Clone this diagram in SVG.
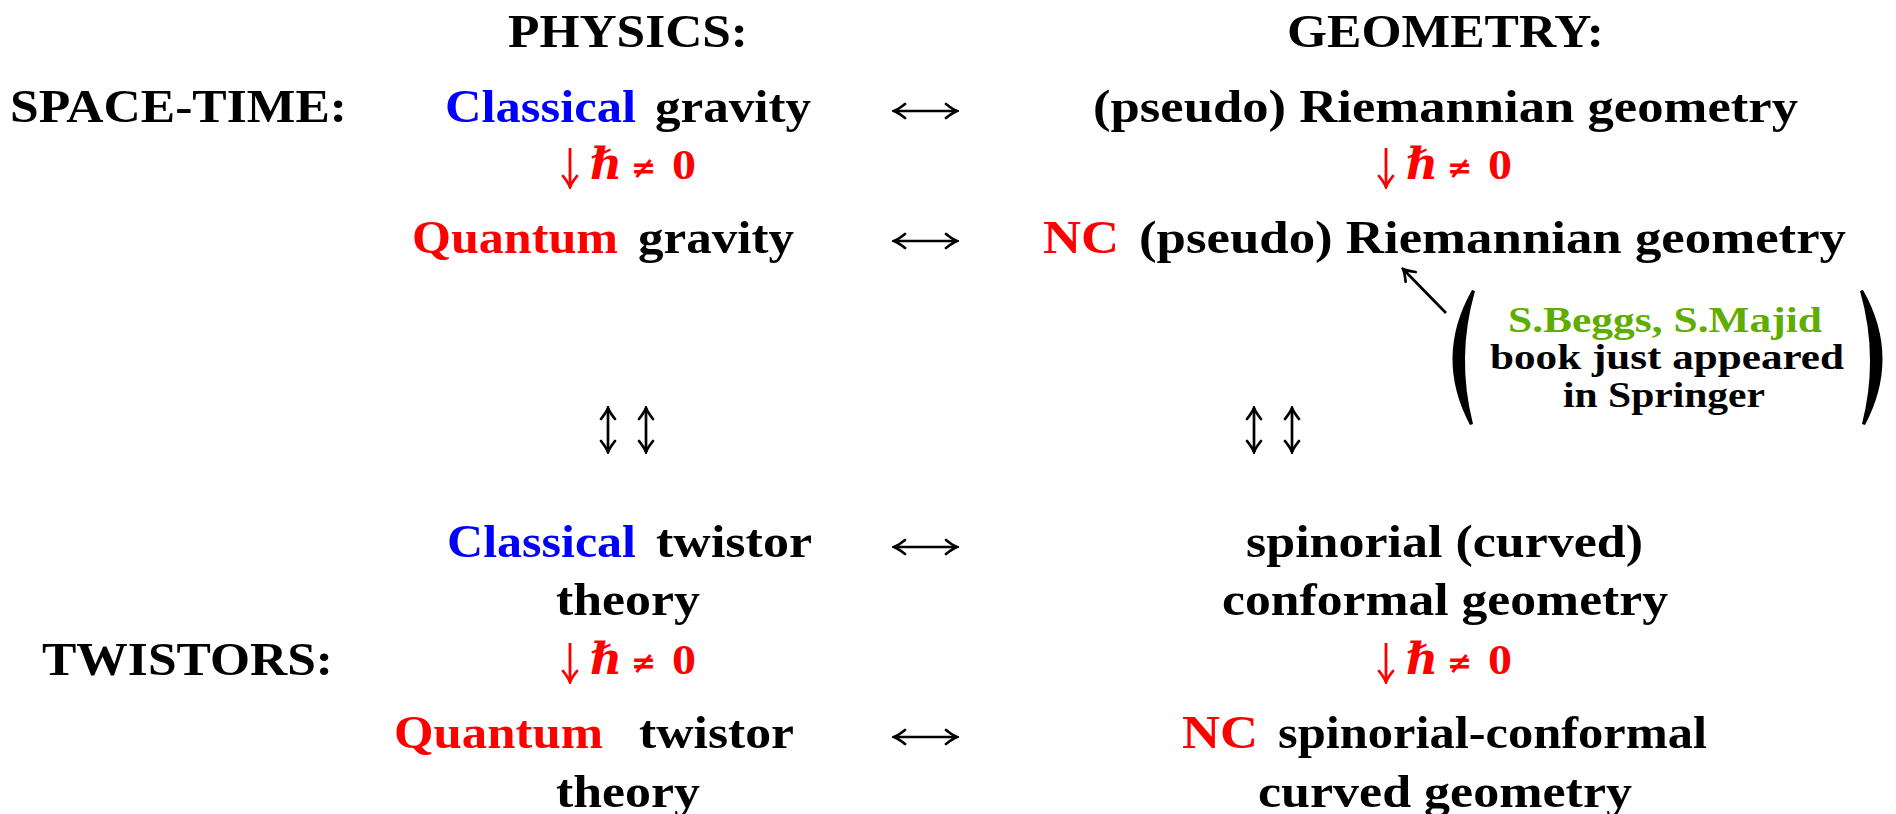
<svg xmlns="http://www.w3.org/2000/svg" width="1896" height="814" viewBox="0 0 1896 814">
<style>
.t{font-family:"Liberation Serif","DejaVu Serif",serif;font-weight:bold;font-size:47px;fill:#000}
.s{font-size:36px}
.blue{fill:#0000ff}
.red{fill:#ff0000}
.green{fill:#5fad00}
.h{font-family:"Liberation Serif","DejaVu Serif",serif;font-weight:bold;font-style:italic;font-size:44px;fill:#ff0000}
.ne{font-family:"DejaVu Sans",sans-serif;font-weight:bold;font-size:30px;fill:#ff0000}
.z{font-family:"Liberation Serif","DejaVu Serif",serif;font-weight:bold;font-size:43px;fill:#ff0000}
.ln{fill:none;stroke:#000;stroke-width:2.7}
.lr{fill:none;stroke:#ff0000;stroke-width:2.8}
</style>
<defs>
<marker id="ah" viewBox="-13 -9 15 18" markerWidth="15" markerHeight="18" refX="0" refY="0" orient="auto-start-reverse" markerUnits="userSpaceOnUse">
<path d="M-11,-7 Q-4,-1.5 0,0 Q-4,1.5 -11,7" fill="none" stroke="#000" stroke-width="2.7" stroke-linecap="round"/>
</marker>
<marker id="ahr" viewBox="-13 -9 15 18" markerWidth="15" markerHeight="18" refX="0" refY="0" orient="auto" markerUnits="userSpaceOnUse">
<path d="M-11,-7 Q-4,-1.5 0,0 Q-4,1.5 -11,7" fill="none" stroke="#ff0000" stroke-width="2.8" stroke-linecap="round"/>
</marker>
</defs>
<rect width="1896" height="814" fill="#fff"/>

<g id="header-physics"><text class="t" x="508" y="47" textLength="240" lengthAdjust="spacingAndGlyphs">PHYSICS:</text></g>
<g id="header-geometry"><text class="t" x="1287" y="47" textLength="317" lengthAdjust="spacingAndGlyphs">GEOMETRY:</text></g>
<g id="label-spacetime"><text class="t" x="10" y="122" textLength="337" lengthAdjust="spacingAndGlyphs">SPACE-TIME:</text></g>
<g id="label-twistors"><text class="t" x="42" y="675" textLength="291" lengthAdjust="spacingAndGlyphs">TWISTORS:</text></g>

<g id="classical-gravity">
<text class="t blue" x="445" y="122" textLength="191" lengthAdjust="spacingAndGlyphs">Classical</text>
<text class="t" x="655" y="122" textLength="156" lengthAdjust="spacingAndGlyphs">gravity</text>
</g>
<g id="riemannian">
<text class="t" x="1093" y="122" textLength="705" lengthAdjust="spacingAndGlyphs">(pseudo) Riemannian geometry</text>
</g>
<g id="quantum-gravity">
<text class="t red" x="412" y="253" textLength="206" lengthAdjust="spacingAndGlyphs">Quantum</text>
<text class="t" x="638" y="253" textLength="156" lengthAdjust="spacingAndGlyphs">gravity</text>
</g>
<g id="nc-riemannian">
<text class="t red" x="1043" y="253" textLength="76" lengthAdjust="spacingAndGlyphs">NC</text>
<text class="t" x="1139" y="253" textLength="707" lengthAdjust="spacingAndGlyphs">(pseudo) Riemannian geometry</text>
</g>
<g id="classical-twistor">
<text class="t blue" x="447" y="557" textLength="189" lengthAdjust="spacingAndGlyphs">Classical</text>
<text class="t" x="656" y="557" textLength="156" lengthAdjust="spacingAndGlyphs">twistor</text>
<text class="t" x="556" y="615" textLength="144" lengthAdjust="spacingAndGlyphs">theory</text>
</g>
<g id="spinorial">
<text class="t" x="1246" y="557" textLength="397" lengthAdjust="spacingAndGlyphs">spinorial (curved)</text>
<text class="t" x="1222" y="615" textLength="446" lengthAdjust="spacingAndGlyphs">conformal geometry</text>
</g>
<g id="quantum-twistor">
<text class="t red" x="394" y="748" textLength="209" lengthAdjust="spacingAndGlyphs">Quantum</text>
<text class="t" x="639" y="748" textLength="155" lengthAdjust="spacingAndGlyphs">twistor</text>
<text class="t" x="556" y="807" textLength="144" lengthAdjust="spacingAndGlyphs">theory</text>
</g>
<g id="nc-spinorial">
<text class="t red" x="1182" y="748" textLength="76" lengthAdjust="spacingAndGlyphs">NC</text>
<text class="t" x="1278" y="748" textLength="429" lengthAdjust="spacingAndGlyphs">spinorial-conformal</text>
<text class="t" x="1258" y="807" textLength="374" lengthAdjust="spacingAndGlyphs">curved geometry</text>
</g>
<g id="note">
<path d="M1472,290 Q1434,357 1470,425 L1473,424 Q1456,357 1475,291 Z" fill="#000"/>
<path d="M1863,290 Q1901,357 1865,425 L1862,424 Q1879,357 1860,291 Z" fill="#000"/>
<text class="t s green" x="1508" y="332" textLength="314" lengthAdjust="spacingAndGlyphs">S.Beggs, S.Majid</text>
<text class="t s" x="1490" y="369" textLength="354" lengthAdjust="spacingAndGlyphs">book just appeared</text>
<text class="t s" x="1563" y="407" textLength="202" lengthAdjust="spacingAndGlyphs">in Springer</text>
</g>

<g id="connectors">
<path class="ln" d="M894,111 H957" marker-start="url(#ah)" marker-end="url(#ah)"/>
<path class="ln" d="M894,241 H957" marker-start="url(#ah)" marker-end="url(#ah)"/>
<path class="ln" d="M894,547 H957" marker-start="url(#ah)" marker-end="url(#ah)"/>
<path class="ln" d="M894,737 H957" marker-start="url(#ah)" marker-end="url(#ah)"/>

<path class="ln" d="M608,408 V452" marker-start="url(#ah)" marker-end="url(#ah)"/>
<path class="ln" d="M646,408 V452" marker-start="url(#ah)" marker-end="url(#ah)"/>
<path class="ln" d="M1254,408 V452" marker-start="url(#ah)" marker-end="url(#ah)"/>
<path class="ln" d="M1292,408 V452" marker-start="url(#ah)" marker-end="url(#ah)"/>

<path class="lr" d="M570,148 V187" marker-end="url(#ahr)"/>
<g><text class="h" x="590" y="179">ℏ</text><text class="ne" x="631" y="178">≠</text><text class="z" x="672" y="179" textLength="24" lengthAdjust="spacingAndGlyphs">0</text></g>
<path class="lr" d="M1386,148 V187" marker-end="url(#ahr)"/>
<g><text class="h" x="1406" y="179">ℏ</text><text class="ne" x="1447" y="178">≠</text><text class="z" x="1488" y="179" textLength="24" lengthAdjust="spacingAndGlyphs">0</text></g>
<path class="lr" d="M570,643 V682" marker-end="url(#ahr)"/>
<g><text class="h" x="590" y="674">ℏ</text><text class="ne" x="631" y="673">≠</text><text class="z" x="672" y="674" textLength="24" lengthAdjust="spacingAndGlyphs">0</text></g>
<path class="lr" d="M1386,643 V682" marker-end="url(#ahr)"/>
<g><text class="h" x="1406" y="674">ℏ</text><text class="ne" x="1447" y="673">≠</text><text class="z" x="1488" y="674" textLength="24" lengthAdjust="spacingAndGlyphs">0</text></g>

<path class="ln" d="M1446,313 L1403,269" marker-end="url(#ah)"/>
</g>
</svg>
